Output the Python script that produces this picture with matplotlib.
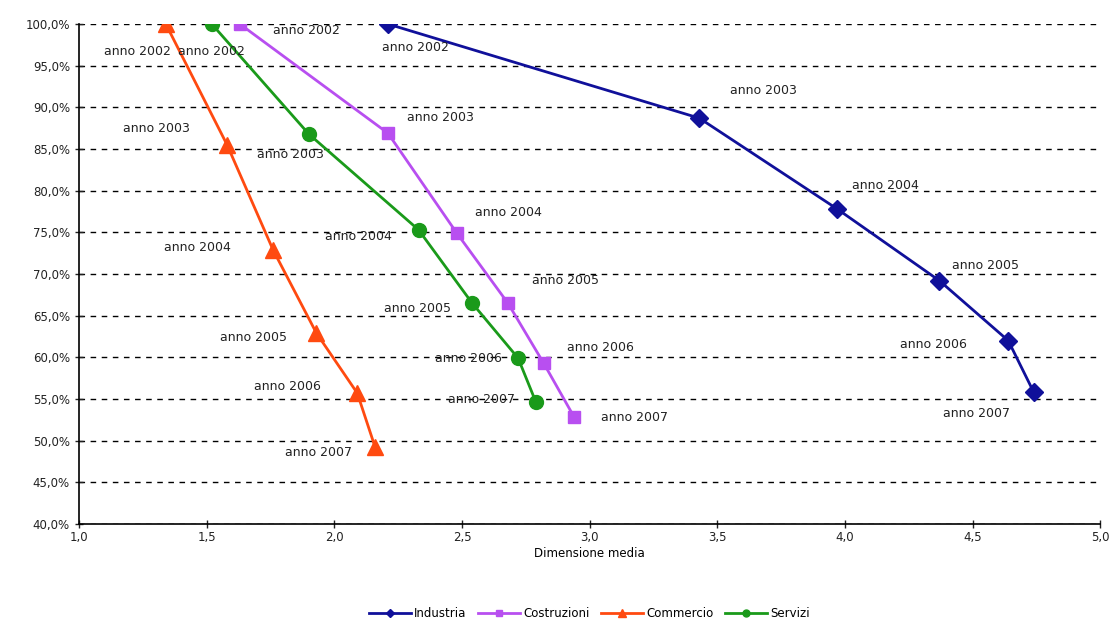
import matplotlib.pyplot as plt
from matplotlib.ticker import FuncFormatter, MultipleLocator

anni = ["anno 2002", "anno 2003", "anno 2004", "anno 2005", "anno 2006", "anno 2007"]

industria_x = [2.21, 3.43, 3.97, 4.37, 4.64, 4.74]
industria_y = [100.0, 88.7, 77.8, 69.2, 62.0, 55.8]

costruzioni_x = [1.63, 2.21, 2.48, 2.68, 2.82, 2.94]
costruzioni_y = [100.0, 86.9, 74.9, 66.5, 59.3, 52.8]

commercio_x = [1.34, 1.58, 1.76, 1.93, 2.09, 2.16]
commercio_y = [100.0, 85.5, 72.9, 62.9, 55.7, 49.2]

servizi_x = [1.52, 1.90, 2.33, 2.54, 2.72, 2.79]
servizi_y = [100.0, 86.8, 75.3, 66.5, 59.9, 54.6]

fig = plt.figure(figsize=(11.16, 6.32), dpi=100)
ax = fig.add_axes([0.0708, 0.171, 0.915, 0.791])

# (nome, x, y, colore, marker, size, offset etichette in punti, allineamento)
serie = [
    ("Industria", industria_x, industria_y, "#10109a", "D", 9,
     [(20, -17, "center"), (22, 20, "left"), (11, 17, "left"),
      (9, 11, "left"), (-30, -3, "right"), (-17, -15, "right")]),
    ("Costruzioni", costruzioni_x, costruzioni_y, "#b84ff0", "s", 9,
     [(24, -5, "left"), (14, 11, "left"), (13, 15, "left"),
      (17, 16, "left"), (17, 11, "left"), (19, 0, "left")]),
    ("Commercio", commercio_x, commercio_y, "#ff4a10", "^", 11,
     [(4, -20, "right"), (-27, 12, "right"), (-30, 2, "right"),
      (-21, -3, "right"), (-26, 5, "right"), (-17, -4, "right")]),
    ("Servizi", servizi_x, servizi_y, "#1a9a1a", "o", 10,
     [(0, -20, "center"), (-13, -15, "center"), (-19, -5, "right"),
      (-15, -4, "right"), (-12, 0, "right"), (-15, 2, "right")]),
]

for nome, xs, ys, col, mk, ms, offs, in serie:
    ax.plot(xs, ys, color=col, lw=2, marker=mk, ms=ms, label=nome, zorder=3)
    for x, y, testo, (dx, dy, ha) in zip(xs, ys, anni, offs):
        ax.annotate(testo, (x, y), xytext=(dx, dy), textcoords="offset points",
                    ha=ha, va="center", fontsize=9, color="#222222", zorder=4)

ax.set_xlim(1.0, 5.0)
ax.set_ylim(40, 100)
ax.xaxis.set_major_locator(MultipleLocator(0.5))
ax.yaxis.set_major_locator(MultipleLocator(5))
ax.xaxis.set_major_formatter(FuncFormatter(lambda v, p: f"{v:.1f}".replace(".", ",")))
ax.yaxis.set_major_formatter(FuncFormatter(lambda v, p: f"{v:.1f}%".replace(".", ",")))
ax.tick_params(direction="inout", length=6, width=1, labelsize=8.5, colors="#222222")
ax.tick_params(axis="x", pad=2)

ax.yaxis.grid(True, color="black", ls=(0, (4, 4)), lw=1)
ax.set_axisbelow(True)
for s in ["top", "right"]:
    ax.spines[s].set_visible(False)
for s in ["left", "bottom"]:
    ax.spines[s].set_linewidth(1.2)

ax.set_xlabel("Dimensione media", fontsize=8.5, labelpad=2)
ax.legend(loc="upper center", bbox_to_anchor=(0.5, -0.145), ncol=4, frameon=False,
          fontsize=8.5, handlelength=3.5, columnspacing=1.0, handletextpad=0.3,
          markerscale=0.5)

fig.savefig("out.png", dpi=100)
